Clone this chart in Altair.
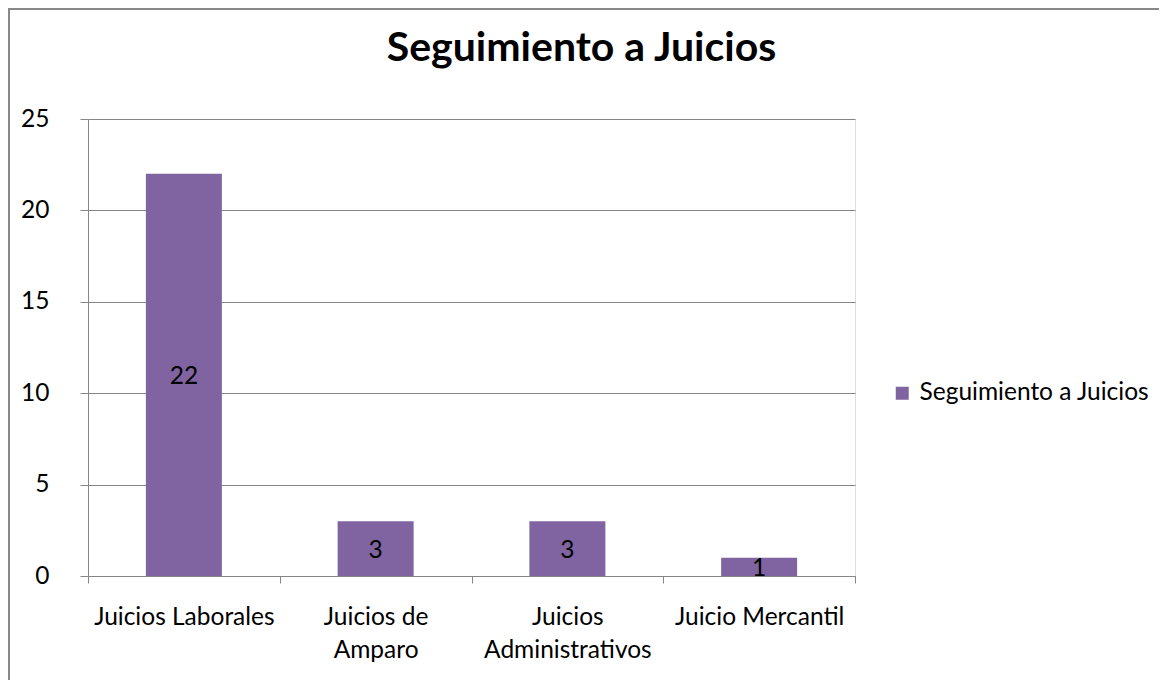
import altair as alt
import pandas as pd

categories = ["Juicios Laborales", "Juicios de Amparo", "Juicios Administrativos", "Juicio Mercantil"]
values = [22, 3, 3, 1]
label_lines = [["Juicios Laborales"], ["Juicios de", "Amparo"], ["Juicios", "Administrativos"], ["Juicio Mercantil"]]
series_name = "Seguimiento a Juicios"
y_ticks = [0, 5, 10, 15, 20, 25]

df = pd.DataFrame({"cat": categories, "val": values, "serie": [series_name] * len(categories)})
df["mid"] = df["val"] / 2

FONT = "Lato"
FS = 24.5
W, H = 767, 457

expr = "datum.label"
for c, lines in reversed(list(zip(categories, label_lines))):
    arr = "[" + ",".join("'" + l + "'" for l in lines) + "]"
    expr = f"datum.label == '{c}' ? {arr} : ({expr})"

x = alt.X(
    "cat:N",
    sort=categories,
    title=None,
    scale=alt.Scale(paddingInner=0, paddingOuter=0),
    axis=alt.Axis(
        labelAngle=0,
        labelExpr=expr,
        tickBand="extent",
        tickSize=7,
        tickColor="#868686",
        domainColor="#868686",
        labelPadding=34,
        labelFontSize=FS,
        labelFont=FONT,
        labelColor="black",
        labelLineHeight=33,
        labelBaseline="middle",
        labelLimit=0,
        grid=False,
    ),
)

bars = alt.Chart(df).mark_bar(color="#8064A2", size=76).encode(
    x=x,
    y=alt.Y(
        "val:Q",
        title=None,
        scale=alt.Scale(domain=[0, 25], nice=False),
        axis=alt.Axis(
            values=y_ticks,
            tickSize=8,
            tickColor="#868686",
            domainColor="#868686",
            gridColor="#868686",
            labelPadding=31,
            labelFontSize=FS,
            labelFont=FONT,
            labelColor="black",
        ),
    ),
    color=alt.Color(
        "serie:N",
        scale=alt.Scale(range=["#8064A2"]),
        legend=alt.Legend(
            title=None,
            orient="none",
            legendX=802,
            legendY=262,
            symbolType="square",
            symbolSize=169,
            symbolStrokeWidth=0,
            labelFontSize=FS,
            labelFont=FONT,
            labelColor="black",
            labelOffset=5,
            labelLimit=0,
        ),
    ),
)

texts = alt.Chart(df).mark_text(fontSize=FS, font=FONT, color="black", baseline="middle", dy=2).encode(
    x=alt.X("cat:N", sort=categories),
    y=alt.Y("mid:Q"),
    text=alt.Text("val:Q"),
)

border_df = pd.DataFrame({"k": [0]})
left_border = alt.Chart(border_df).mark_rule(color="#888888", strokeWidth=2).encode(
    x=alt.value(-79), y=alt.value(-110), y2=alt.value(H + 110)
)
top_border = alt.Chart(border_df).mark_rule(color="#888888", strokeWidth=2).encode(
    x=alt.value(-80), x2=alt.value(W + 304), y=alt.value(-110)
)

chart = (
    alt.layer(left_border, top_border, bars, texts)
    .properties(
        width=W,
        height=H,
        padding={"left": 80, "top": 111, "right": 304, "bottom": 104},
        autosize=alt.AutoSizeParams(type="none"),
        title=alt.TitleParams(
            series_name,
            font=FONT,
            fontSize=41,
            fontWeight="bold",
            color="black",
            anchor="middle",
            frame="group",
            dx=110,
            offset=-62,
        ),
    )
    .configure_view(stroke=None)
    .configure(background="white")
)

chart.save("out.html", embed_options={"renderer": "svg", "actions": False})
